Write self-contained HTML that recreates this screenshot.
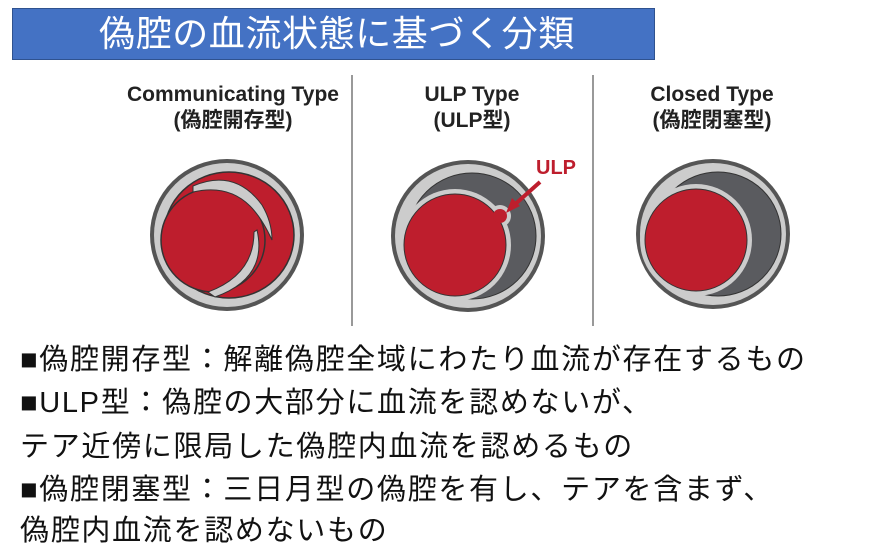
<!DOCTYPE html>
<html><head><meta charset="utf-8"><style>
body{margin:0;width:884px;height:542px;background:#fff;position:relative;overflow:hidden;font-family:"Liberation Sans","Noto Sans CJK JP",sans-serif}
.t{position:absolute;left:12px;top:8px;width:643px;height:52px;background:#4472c4;border:1px solid #2f528f;color:#fff;font-size:36px;letter-spacing:0.6px;line-height:50px;padding-left:86px;box-sizing:border-box}
.l{position:absolute;left:20px;font-size:29px;letter-spacing:1.7px;color:#111;white-space:nowrap}
</style></head><body>
<div class="t">偽腔の血流状態に基づく分類</div>
<svg style="position:absolute;left:0;top:0" width="884" height="542">
<g font-family="Liberation Sans,Noto Sans CJK JP,sans-serif" font-weight="bold" font-size="21" fill="#222" text-anchor="middle">
<text x="233" y="101">Communicating Type</text><text x="233" y="127">(偽腔開存型)</text>
<text x="472" y="101">ULP Type</text><text x="472" y="127">(ULP型)</text>
<text x="712" y="101">Closed Type</text><text x="712" y="127">(偽腔閉塞型)</text>
</g>
<line x1="352" y1="75" x2="352" y2="326" stroke="#999" stroke-width="2"/>
<line x1="593" y1="75" x2="593" y2="326" stroke="#999" stroke-width="2"/>
<!-- 1 -->
<ellipse cx="227" cy="235" rx="77" ry="76" fill="#555"/>
<ellipse cx="227" cy="235" rx="73" ry="72" fill="#ccc"/>
<ellipse cx="229" cy="235" rx="65" ry="63" fill="#be1e2d" stroke="#333" stroke-width="1.5"/>
<circle cx="213" cy="240" r="52" fill="#be1e2d" stroke="#333" stroke-width="1.5"/>
<path d="M193 186 Q235 168 262 205 Q272 222 272 240 Q262 218 250 206 Q228 184 193 192 Z" fill="#ccc" stroke="#333"/>
<path d="M257 230 Q268 278 215 297 L208 292 Q254 275 254 232 Z" fill="#ccc" stroke="#333"/>
<!-- 2 -->
<ellipse cx="468" cy="236" rx="77" ry="76" fill="#555"/>
<ellipse cx="468" cy="236" rx="73" ry="72" fill="#ccc"/>
<ellipse cx="472" cy="236" rx="64" ry="63" fill="#5a5b5f" stroke="#333"/>
<circle cx="455" cy="245" r="56" fill="#ccc"/>
<circle cx="500" cy="216" r="11" fill="#ccc"/>
<circle cx="455" cy="245" r="51" fill="#be1e2d" stroke="#333"/>
<circle cx="500" cy="216" r="7" fill="#be1e2d"/>
<line x1="540" y1="182" x2="512" y2="207" stroke="#be1e2d" stroke-width="4"/>
<polygon points="506,213 512,198 520,206" fill="#be1e2d"/>
<text x="556" y="174" font-family="Liberation Sans,sans-serif" font-weight="bold" font-size="20" fill="#be1e2d" text-anchor="middle">ULP</text>
<!-- 3 -->
<ellipse cx="713" cy="234" rx="77" ry="75" fill="#555"/>
<ellipse cx="713" cy="234" rx="73" ry="71" fill="#ccc"/>
<ellipse cx="718" cy="234" rx="63" ry="62" fill="#5a5b5f" stroke="#333"/>
<circle cx="696" cy="240" r="56" fill="#ccc"/>
<circle cx="696" cy="240" r="51" fill="#be1e2d" stroke="#333"/>
</svg>
<div class="l" style="top:336px">■偽腔開存型：解離偽腔全域にわたり血流が存在するもの</div>
<div class="l" style="top:379px">■ULP型：偽腔の大部分に血流を認めないが、</div>
<div class="l" style="top:423px">テア近傍に限局した偽腔内血流を認めるもの</div>
<div class="l" style="top:466px">■偽腔閉塞型：三日月型の偽腔を有し、テアを含まず、</div>
<div class="l" style="top:507px">偽腔内血流を認めないもの</div>
</body></html>
